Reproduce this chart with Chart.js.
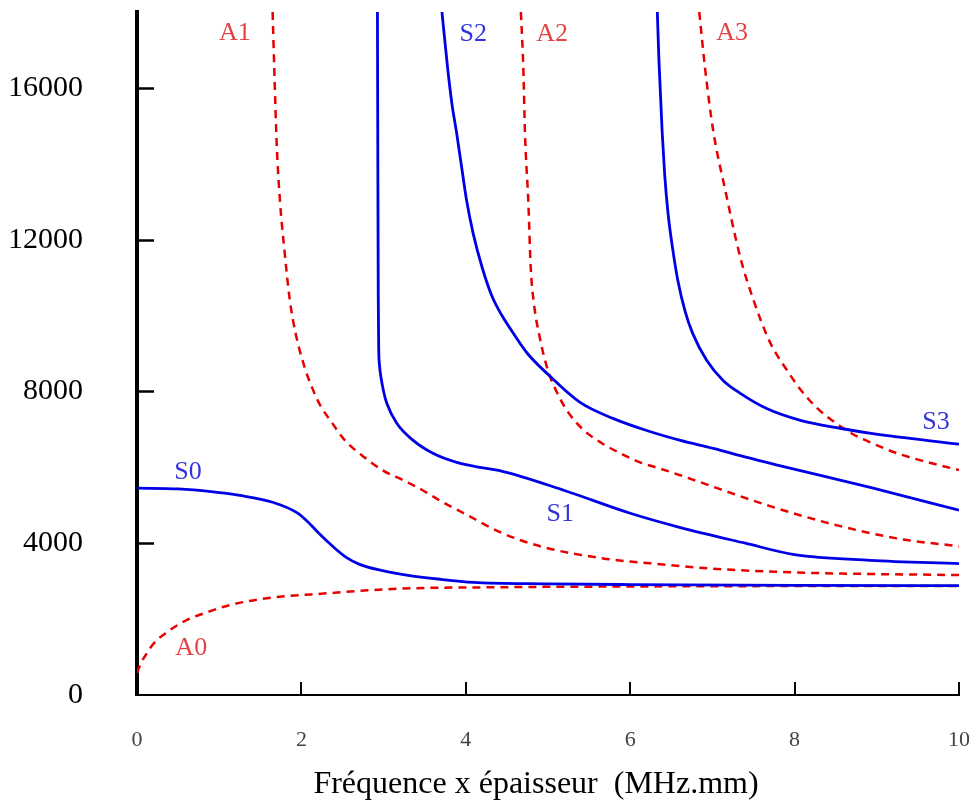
<!DOCTYPE html>
<html>
<head>
<meta charset="utf-8">
<script src="https://cdn.jsdelivr.net/npm/chart.js@4/dist/chart.umd.min.js"></script>
<style>
  html, body { margin: 0; padding: 0; background: #fff; }
  #chart { display: block; }
</style>
</head>
<body>
<canvas id="chart" width="977" height="806"></canvas>
<script>
// vitesse de phase (m/s) en fonction de f x e (MHz.mm)
const s0X = [0, 0.5, 0.9, 1.25, 1.65, 1.95, 2.08, 2.2, 2.31, 2.42, 2.55, 2.7, 2.96, 3.28, 3.69, 4.09, 5.0, 6.0, 8.0, 10];
const s0Y = [5450, 5430, 5360, 5260, 5080, 4800, 4560, 4290, 4060, 3840, 3620, 3450, 3290, 3160, 3050, 2970, 2930, 2910, 2890, 2880];

const a0X = [0, 0.05, 0.12, 0.2, 0.36, 0.6, 0.85, 1.13, 1.58, 2.31, 3.16, 4.38, 6.0, 8.0, 10];
const a0Y = [580, 850, 1100, 1350, 1650, 1970, 2180, 2370, 2550, 2680, 2800, 2840, 2860, 2870, 2870];

const a1X = [1.65, 1.67, 1.70, 1.74, 1.79, 1.86, 1.93, 2.04, 2.13, 2.23, 2.37, 2.53, 2.77, 2.99, 3.24, 3.48, 3.72, 3.95, 4.45, 4.94, 5.67, 6.24, 7.0, 8.0, 10];
const a1Y = [18000, 16500, 14500, 13000, 11800, 10390, 9530, 8630, 8100, 7630, 7180, 6710, 6260, 5920, 5660, 5390, 5080, 4820, 4260, 3900, 3600, 3470, 3330, 3230, 3160];

const s1X = [2.925, 2.93, 2.935, 2.94, 2.95, 2.97, 3.0, 3.04, 3.16, 3.36, 3.6, 3.89, 4.17, 4.4, 5.2, 6.0, 6.6, 7.4, 8.0, 8.92, 10];
const s1Y = [18000, 14000, 10500, 9200, 8700, 8350, 8000, 7680, 7160, 6710, 6370, 6130, 6000, 5920, 5390, 4790, 4420, 4000, 3700, 3550, 3460];

const s2X = [3.71, 3.78, 3.83, 3.89, 3.95, 4.01, 4.09, 4.2, 4.32, 4.44, 4.57, 4.75, 4.99, 5.39, 5.79, 6.2, 6.61, 7.01, 7.42, 7.79, 8.92, 10];
const s2Y = [18000, 16500, 15600, 14790, 13900, 13030, 12160, 11260, 10500, 10000, 9560, 9000, 8470, 7710, 7290, 6970, 6710, 6500, 6260, 6060, 5470, 4870];

const a2X = [4.67, 4.70, 4.72, 4.76, 4.79, 4.83, 4.90, 5.0, 5.11, 5.23, 5.41, 5.66, 5.88, 6.12, 6.36, 6.61, 7.74, 8.52, 9.32, 10];
const a2Y = [18000, 16500, 14790, 13030, 11260, 10300, 9420, 8550, 7970, 7500, 7030, 6630, 6370, 6130, 5970, 5790, 4950, 4470, 4100, 3920];

const s3X = [6.33, 6.35, 6.39, 6.42, 6.46, 6.52, 6.58, 6.67, 6.76, 6.93, 7.13, 7.34, 7.66, 8.07, 8.55, 8.95, 10];
const s3Y = [18000, 16700, 14790, 13700, 12700, 11710, 10920, 10100, 9530, 8820, 8290, 7950, 7550, 7240, 7030, 6890, 6610];

const a3X = [6.84, 6.91, 7.01, 7.15, 7.34, 7.49, 7.70, 7.91, 8.09, 8.27, 8.5, 8.73, 8.95, 9.22, 9.44, 9.68, 10];
const a3Y = [18000, 16530, 14870, 13370, 11530, 10470, 9300, 8550, 8000, 7570, 7170, 6850, 6630, 6390, 6240, 6100, 5930];

const modeNames = ['S0', 'A0', 'A1', 'S1', 'S2', 'A2', 'S3', 'A3'];
const nameX = [0.62, 0.66, 1.19, 5.15, 4.09, 5.05, 9.72, 7.24];
const nameY = [5870, 1240, 17450, 4760, 17420, 17420, 7180, 17450];

const xTicks = [0, 2, 4, 6, 8, 10];
const yTicks = [0, 4000, 8000, 12000, 16000];

const BLUE = '#0000e6';
const RED = '#e60000';

function pts(xs, ys) {
  return xs.map((x, i) => ({ x: x, y: ys[i] }));
}

function mode(label, xs, ys) {
  const sym = label[0] === 'S';
  return {
    label: label,
    data: pts(xs, ys),
    borderColor: sym ? BLUE : RED,
    borderWidth: sym ? 2.8 : 2.5,
    borderDash: sym ? [] : [8, 6],
    pointRadius: 0,
    showLine: true,
    cubicInterpolationMode: 'monotone',
    fill: false
  };
}

// petits traits de graduation vers l'interieur + noms des modes
const decor = {
  id: 'decor',
  afterDatasetsDraw(chart) {
    const ctx = chart.ctx;
    const x = chart.scales.x, y = chart.scales.y;
    ctx.save();
    ctx.strokeStyle = '#000';
    ctx.lineWidth = 2.5;
    yTicks.forEach(v => {
      if (v === 0) return;
      const py = Math.round(y.getPixelForValue(v)) + 0.5;
      ctx.beginPath();
      ctx.moveTo(x.left, py);
      ctx.lineTo(x.left + 17, py);
      ctx.stroke();
    });
    ctx.lineWidth = 2;
    xTicks.forEach(v => {
      if (v === 0) return;
      const px = Math.round(x.getPixelForValue(v));
      ctx.beginPath();
      ctx.moveTo(px, y.bottom);
      ctx.lineTo(px, y.bottom - 13);
      ctx.stroke();
    });
    ctx.font = '26px "Liberation Serif", serif';
    ctx.textAlign = 'center';
    ctx.textBaseline = 'middle';
    modeNames.forEach((n, i) => {
      ctx.fillStyle = n[0] === 'S' ? '#3333dd' : '#e04444';
      ctx.fillText(n, x.getPixelForValue(nameX[i]), y.getPixelForValue(nameY[i]));
    });
    ctx.restore();
  }
};

new Chart(document.getElementById('chart'), {
  type: 'scatter',
  data: {
    datasets: [
      mode('S0', s0X, s0Y),
      mode('A0', a0X, a0Y),
      mode('A1', a1X, a1Y),
      mode('S1', s1X, s1Y),
      mode('S2', s2X, s2Y),
      mode('A2', a2X, a2Y),
      mode('S3', s3X, s3Y),
      mode('A3', a3X, a3Y)
    ]
  },
  options: {
    responsive: false,
    animation: false,
    layout: { padding: { top: 12, right: 18, left: 0, bottom: 0 } },
    plugins: {
      legend: { display: false },
      tooltip: { enabled: false }
    },
    scales: {
      x: {
        type: 'linear',
        min: 0,
        max: 10,
        afterBuildTicks(s) { s.ticks = xTicks.map(v => ({ value: v })); },
        afterFit(s) {
          s.height = 111;
          s.paddingLeft = 0; s.paddingRight = 0;
        },
        ticks: {
          padding: 32,
          color: '#444',
          font: { family: 'Liberation Serif', size: 22 },
          callback: v => String(v)
        },
        grid: { drawOnChartArea: false, drawTicks: false },
        border: { color: '#000', width: 2 },
        title: {
          display: true,
          text: 'Fréquence x épaisseur  (MHz.mm)   ',
          color: '#000',
          font: { family: 'Liberation Serif', size: 32 },
          padding: { top: 10, bottom: 2 }
        }
      },
      y: {
        type: 'linear',
        min: 0,
        max: 18000,
        afterBuildTicks(s) { s.ticks = yTicks.map(v => ({ value: v })); },
        afterFit(s) {
          s.width = 137;
          s.paddingTop = 0; s.paddingBottom = 0;
        },
        ticks: {
          padding: 54,
          color: '#000',
          font: { family: 'Liberation Serif', size: 30 },
          callback: v => String(v)
        },
        grid: { drawOnChartArea: false, drawTicks: false },
        border: { color: '#000', width: 4 }
      }
    }
  },
  plugins: [decor]
});
</script>
</body>
</html>
